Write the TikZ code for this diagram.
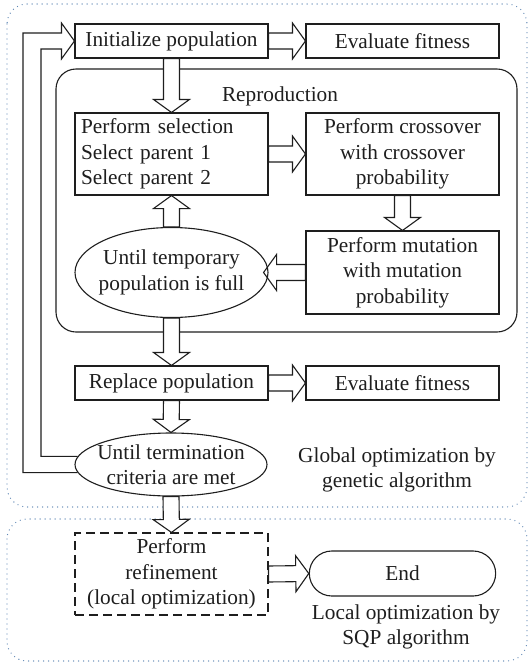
\documentclass[tikz,border=0pt]{standalone}
\usepackage{fontspec}
\setmainfont{Liberation Serif}
\usetikzlibrary{calc,shapes.geometric,shapes.misc}
\pgfdeclarelayer{background}
\pgfsetlayers{background,main}

\definecolor{ink}{RGB}{30,30,30}
\definecolor{frameblue}{RGB}{95,135,180}

\tikzset{
  every node/.style={font=\fontsize{21.3}{25.5}\selectfont, text=ink},
  box/.style={draw=ink, line width=1.1pt, rectangle, minimum width=193pt,
    inner xsep=6pt, inner ysep=3pt, align=center},
  oval/.style={draw=ink, line width=1.1pt, ellipse, inner xsep=-10pt, inner ysep=-8pt,
    minimum width=193pt, align=center},
  fat/.style={draw=ink, line width=1.1pt, fill=white, line join=miter,
    to path={
      ($(\tikztotarget)!13pt!(\tikztostart)$) coordinate (fatbase)
      ($(\tikztostart)!8pt!90:(\tikztotarget)$)
      -- ($(fatbase)!8pt!-90:(\tikztostart)$)
      -- ($(fatbase)!18pt!-90:(\tikztostart)$)
      -- (\tikztotarget)
      -- ($(fatbase)!18pt!90:(\tikztostart)$)
      -- ($(fatbase)!8pt!90:(\tikztostart)$)
      -- ($(\tikztostart)!8pt!-90:(\tikztotarget)$)
      -- cycle}},
  loopline/.style={draw=ink, line width=1.1pt, line join=miter},
  frame/.style={draw=frameblue, line width=1.3pt, dash pattern=on 0pt off 5pt,
    line cap=round, rounded corners=20pt},
  group/.style={draw=ink, line width=1.1pt, rounded corners=20pt},
}

\begin{document}
\begin{tikzpicture}[x=1pt, y=-1pt]
\useasboundingbox (0,0) rectangle (532,665);

% genetic algorithm stage
\node[box, minimum height=34pt] (init) at (171.5,41) {Initialize population};
\node[box, minimum height=34pt] (eval1) at (402.5,41) {Evaluate fitness};
\node (repro) at (280,96) {Reproduction};
\node[box, minimum height=82pt, text width=181pt, align=left] (sel) at (171.5,154)
  {Perform selection\\Select parent 1\\Select parent 2};
\node[box, minimum height=82pt] (cross) at (402.5,154)
  {Perform crossover\\with crossover\\probability};
\node[box, minimum height=83pt] (mut) at (402.5,272.5)
  {Perform mutation\\with mutation\\probability};
\node[oval, minimum height=90pt] (temp) at (171.5,272.5)
  {Until temporary\\population is full};
\node[box, minimum height=34pt] (repl) at (171.5,383) {Replace population};
\node[box, minimum height=34pt] (eval2) at (402.5,383) {Evaluate fitness};
\node[oval, minimum height=63pt, minimum width=192pt] (term) at (171,464.5)
  {Until termination\\criteria are met};
\node[align=center] (glob) at (397,470) {Global optimization by\\genetic algorithm};

% local refinement stage
\node[box, minimum height=82pt, dash pattern=on 9pt off 5pt] (refine) at (171.5,574)
  {Perform\\refinement\\(local optimization)};
\node[draw=ink, line width=1.1pt, rounded rectangle, minimum width=193pt,
  minimum height=45pt] (endn) at (402.5,573.5) {End};
\node[align=center] (loc) at (406,627) {Local optimization by\\SQP algorithm};

% helper points
\coordinate (tempin) at ($(temp.east)+(-5,0)$);
\coordinate (loopO) at (23,0);
\coordinate (loopI) at (41,0);
\coordinate (hbA) at ($(init.west)+(-13,-8)$);
\coordinate (hbB) at ($(init.west)+(-13,-18)$);
\coordinate (hbC) at ($(init.west)+(-13,18)$);
\coordinate (hbD) at ($(init.west)+(-13,8)$);

% return loop into the initial population
\draw[loopline] (term.185) -- (term.185 -| loopO) -- (loopO |- hbA) -- (hbA)
  -- (hbB) -- (init.west) -- (hbC) -- (hbD) -- (loopI |- hbD)
  -- (loopI |- term.175) -- (term.175);

\begin{pgfonlayer}{background}
  \draw[frame] (7,4) rectangle (527,507);
  \draw[frame] (7,519) rectangle (527,661);
  \draw[group] (56,69) rectangle (517,332);

  \draw[fat] (init.east) to (eval1.west);
  \draw[fat] (init.south) to (sel.north);
  \draw[fat] (sel.east) to (cross.west);
  \draw[fat] (cross.south) to (mut.north);
  \draw[fat] (mut.west) to (tempin);
  \draw[fat] (temp.north) to (sel.south);
  \draw[fat] (temp.south) to (repl.north);
  \draw[fat] (repl.east) to (eval2.west);
  \draw[fat] (repl.south) to (term.north);
  \draw[fat] (term.south) to (refine.north);
  \draw[fat] (refine.east) to (endn.west);
\end{pgfonlayer}
\end{tikzpicture}
\end{document}
